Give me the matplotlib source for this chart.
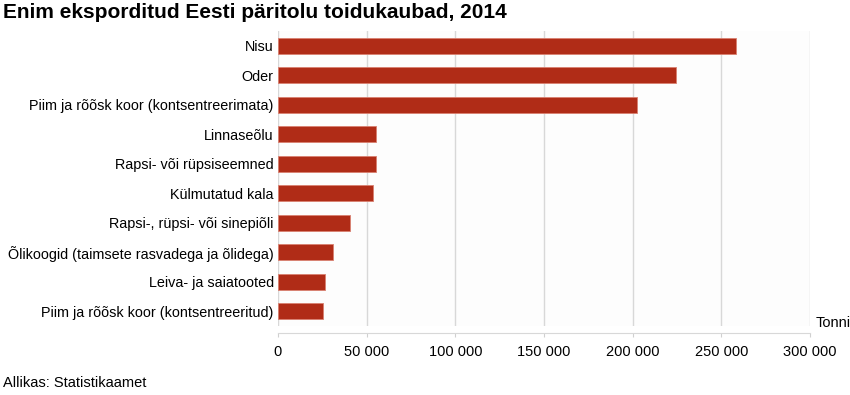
import matplotlib
matplotlib.use("Agg")
import matplotlib.pyplot as plt
from matplotlib.ticker import FuncFormatter

plt.rcParams['font.family'] = ['Liberation Sans', 'DejaVu Sans']

# top exported Estonian food products, 2014 (tonnes)
products = ["Nisu", "Oder", "Piim ja rõõsk koor (kontsentreerimata)", "Linnaseõlu",
            "Rapsi- või rüpsiseemned", "Külmutatud kala", "Rapsi-, rüpsi- või sinepiõli",
            "Õlikoogid (taimsete rasvadega ja õlidega)", "Leiva- ja saiatooted",
            "Piim ja rõõsk koor (kontsentreeritud)"]
tonnes = [258500, 224200, 202700, 55500, 55000, 53400, 40800, 31000, 26700, 25400]
xticks = [0, 50000, 100000, 150000, 200000, 250000, 300000]

fig = plt.figure(figsize=(8.5, 3.95), dpi=100)
ax = fig.add_axes([278/850, 1 - 326/395, (810 - 278)/850, 295/395])
ax.set_facecolor('#fdfdfd')

ypos = range(len(products))
ax.barh(ypos, tonnes, height=0.54, color='#b02c17', edgecolor='#d98070', linewidth=0.6, zorder=3)
ax.set_ylim(len(products) - 0.5, -0.5)
ax.set_xlim(0, 300000)
ax.set_yticks(list(ypos))
ax.set_yticklabels(products, fontsize=10.4)
ax.set_xticks(xticks)
ax.xaxis.set_major_formatter(FuncFormatter(lambda v, p: f"{int(v):,}".replace(",", " ")))
ax.tick_params(axis='y', length=0, pad=3)
ax.tick_params(axis='x', length=3, color='#d0d0d0', labelsize=10.5, pad=6)
ax.grid(axis='x', color='#d8d8d8', linewidth=1, zorder=0)
for s in ['top', 'right', 'left']:
    ax.spines[s].set_visible(False)
ax.spines['bottom'].set_position(('outward', 5))
ax.spines['bottom'].set_color('#d8d8d8')

fig.text(3/850, 1 - 13/395, "Enim eksporditud Eesti päritolu toidukaubad, 2014",
         fontsize=15, fontweight='bold', va='center', ha='left')
fig.text(816/850, 1 - 323/395, "Tonni", fontsize=10.5, va='center', ha='left')
fig.text(3/850, 1 - 383/395, "Allikas: Statistikaamet", fontsize=10.5, va='center', ha='left')

fig.savefig("out.png", dpi=100)
